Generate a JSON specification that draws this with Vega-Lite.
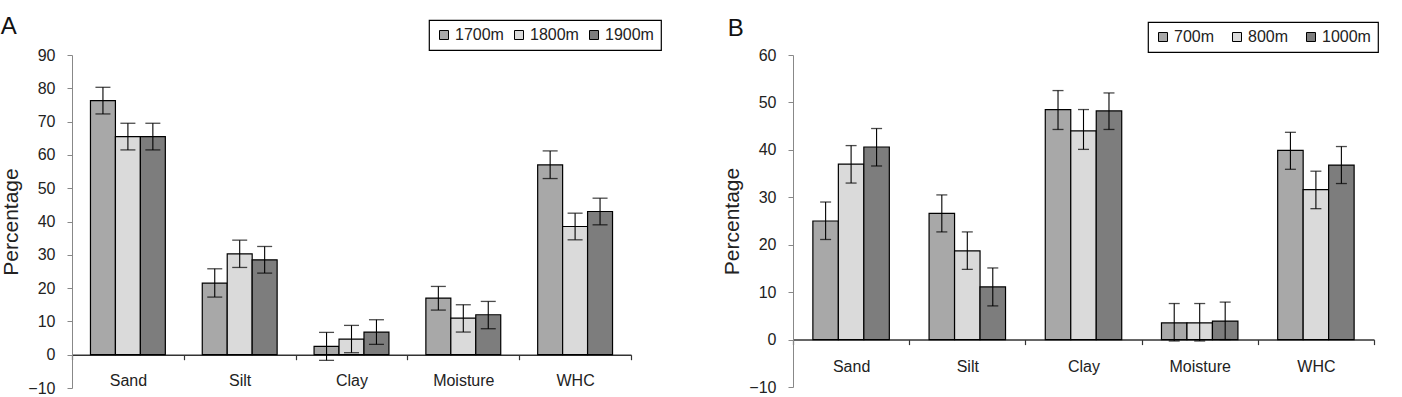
{
  "$schema": "https://vega.github.io/schema/vega-lite/v6.json",
  "background": "white",
  "padding": {"left": 0, "top": 15, "right": 0, "bottom": 0},
  "bounds": "flush",
  "spacing": 162,
  "config": {
    "font": "Liberation Sans",
    "view": {"stroke": null},
    "axis": {
      "labelFont": "Liberation Sans",
      "titleFont": "Liberation Sans",
      "labelColor": "#222",
      "titleColor": "#222",
      "titleFontWeight": "normal",
      "grid": false
    },
    "axisY": {
      "labelOverlap": false,
      "labelSeparation": 0,
      "domainColor": "#888",
      "tickColor": "#888",
      "tickSize": 5,
      "labelFontSize": 16,
      "labelPadding": 12,
      "titleFontSize": 21,
      "titlePadding": 6
    },
    "title": {
      "font": "Liberation Sans",
      "fontSize": 24,
      "fontWeight": "normal",
      "color": "#111",
      "anchor": "start",
      "frame": "bounds",
      "offset": -20
    },
    "legend": {
      "orient": "none",
      "direction": "horizontal",
      "title": null,
      "strokeColor": "#000",
      "strokeWidth": 1.2,
      "fillColor": "white",
      "padding": 7,
      "gridAlign": "all",
      "symbolType": "square",
      "symbolSize": 81,
      "symbolStrokeColor": "#000",
      "symbolStrokeWidth": 1,
      "labelFont": "Liberation Sans",
      "labelFontSize": 16,
      "labelColor": "#222",
      "labelOffset": 3
    }
  },
  "datasets": {
    "high": [
      {"property": "Sand", "elev": "1700m", "value": 76.3, "lo": 72.3, "hi": 80.3},
      {"property": "Sand", "elev": "1800m", "value": 65.5, "lo": 61.5, "hi": 69.5},
      {"property": "Sand", "elev": "1900m", "value": 65.5, "lo": 61.5, "hi": 69.5},
      {"property": "Silt", "elev": "1700m", "value": 21.5, "lo": 17.3, "hi": 25.8},
      {"property": "Silt", "elev": "1800m", "value": 30.3, "lo": 26.2, "hi": 34.4},
      {"property": "Silt", "elev": "1900m", "value": 28.5, "lo": 24.5, "hi": 32.5},
      {"property": "Clay", "elev": "1700m", "value": 2.5, "lo": -1.7, "hi": 6.7},
      {"property": "Clay", "elev": "1800m", "value": 4.7, "lo": 0.6, "hi": 8.8},
      {"property": "Clay", "elev": "1900m", "value": 6.8, "lo": 3.1, "hi": 10.5},
      {"property": "Moisture", "elev": "1700m", "value": 17.0, "lo": 13.4, "hi": 20.5},
      {"property": "Moisture", "elev": "1800m", "value": 11.0, "lo": 6.8, "hi": 15.0},
      {"property": "Moisture", "elev": "1900m", "value": 12.0, "lo": 7.8, "hi": 16.0},
      {"property": "WHC", "elev": "1700m", "value": 57.0, "lo": 52.9, "hi": 61.2},
      {"property": "WHC", "elev": "1800m", "value": 38.5, "lo": 34.5, "hi": 42.5},
      {"property": "WHC", "elev": "1900m", "value": 43.0, "lo": 39.0, "hi": 47.0}
    ],
    "low": [
      {"property": "Sand", "elev": "700m", "value": 25.0, "lo": 21.1, "hi": 29.0},
      {"property": "Sand", "elev": "800m", "value": 37.0, "lo": 33.0, "hi": 40.9},
      {"property": "Sand", "elev": "1000m", "value": 40.6, "lo": 36.6, "hi": 44.5},
      {"property": "Silt", "elev": "700m", "value": 26.6, "lo": 22.7, "hi": 30.5},
      {"property": "Silt", "elev": "800m", "value": 18.7, "lo": 14.8, "hi": 22.7},
      {"property": "Silt", "elev": "1000m", "value": 11.1, "lo": 7.1, "hi": 15.1},
      {"property": "Clay", "elev": "700m", "value": 48.5, "lo": 44.3, "hi": 52.5},
      {"property": "Clay", "elev": "800m", "value": 44.0, "lo": 40.1, "hi": 48.5},
      {"property": "Clay", "elev": "1000m", "value": 48.2, "lo": 44.3, "hi": 52.0},
      {"property": "Moisture", "elev": "700m", "value": 3.5, "lo": -0.3, "hi": 7.6},
      {"property": "Moisture", "elev": "800m", "value": 3.5, "lo": -0.3, "hi": 7.6},
      {"property": "Moisture", "elev": "1000m", "value": 3.9, "lo": 0.0, "hi": 7.9},
      {"property": "WHC", "elev": "700m", "value": 39.9, "lo": 35.9, "hi": 43.7},
      {"property": "WHC", "elev": "800m", "value": 31.6, "lo": 27.6, "hi": 35.5},
      {"property": "WHC", "elev": "1000m", "value": 36.8, "lo": 32.9, "hi": 40.7}
    ]
  },
  "resolve": {
    "scale": {"x": "independent", "y": "independent", "xOffset": "independent", "fill": "independent"},
    "legend": {"fill": "independent"}
  },
  "hconcat": [
    {
      "title": {"text": "A"},
      "width": 559,
      "height": 333,
      "data": {"name": "high"},
      "encoding": {
        "x": {
          "field": "property", "type": "nominal", "sort": null,
          "scale": {"paddingInner": 0, "paddingOuter": 0},
          "axis": {
            "title": null, "offset": -33.3, "labelAngle": 0,
            "domainColor": "#333", "domainWidth": 1.5,
            "tickColor": "#333", "tickWidth": 1.2, "tickSize": 5, "tickBand": "extent",
            "labelFontSize": 16, "labelPadding": 13
          }
        },
        "xOffset": {
          "field": "elev", "type": "nominal", "sort": null,
          "scale": {"domain": ["1700m", "1800m", "1900m"], "paddingInner": 0, "paddingOuter": 0.74}
        },
        "y": {
          "field": "value", "type": "quantitative", "title": "Percentage",
          "scale": {"domain": [-10, 90], "nice": false, "zero": false},
          "axis": {"values": [-10, 0, 10, 20, 30, 40, 50, 60, 70, 80, 90], "labelOverlap": false}
        }
      },
      "layer": [
        {
          "mark": {"type": "bar", "stroke": "#000", "strokeWidth": 1.2},
          "encoding": {
            "y2": {"datum": 0},
            "fill": {
              "field": "elev", "type": "nominal", "sort": null,
              "scale": {"domain": ["1700m", "1800m", "1900m"], "range": ["#a8a8a8", "#dadada", "#7d7d7d"]},
              "legend": {"legendX": 357, "legendY": -35, "columnPadding": 7}
            }
          }
        },
        {
          "mark": {"type": "rule", "color": "#000", "strokeWidth": 1.1},
          "encoding": {
            "y": {"field": "lo", "type": "quantitative", "title": "Percentage"},
            "y2": {"field": "hi"}
          }
        },
        {
          "mark": {"type": "tick", "color": "#000", "size": 15, "thickness": 1.3},
          "encoding": {
            "y": {"field": "lo", "type": "quantitative", "title": "Percentage"}
          }
        },
        {
          "mark": {"type": "tick", "color": "#000", "size": 15, "thickness": 1.3},
          "encoding": {
            "y": {"field": "hi", "type": "quantitative", "title": "Percentage"}
          }
        }
      ]
    },
    {
      "title": {"text": "B", "dx": 6},
      "width": 581,
      "height": 332,
      "data": {"name": "low"},
      "encoding": {
        "x": {
          "field": "property", "type": "nominal", "sort": null,
          "scale": {"paddingInner": 0, "paddingOuter": 0},
          "axis": {
            "title": null, "offset": -47.4, "labelAngle": 0,
            "domainColor": "#333", "domainWidth": 1.5,
            "tickColor": "#333", "tickWidth": 1.2, "tickSize": 5, "tickBand": "extent",
            "labelFontSize": 16, "labelPadding": 14
          }
        },
        "xOffset": {
          "field": "elev", "type": "nominal", "sort": null,
          "scale": {"domain": ["700m", "800m", "1000m"], "paddingInner": 0, "paddingOuter": 0.78}
        },
        "y": {
          "field": "value", "type": "quantitative", "title": "Percentage",
          "scale": {"domain": [-10, 60], "nice": false, "zero": false},
          "axis": {"values": [-10, 0, 10, 20, 30, 40, 50, 60], "labelOverlap": false}
        }
      },
      "layer": [
        {
          "mark": {"type": "bar", "stroke": "#000", "strokeWidth": 1.2},
          "encoding": {
            "y2": {"datum": 0},
            "fill": {
              "field": "elev", "type": "nominal", "sort": null,
              "scale": {"domain": ["700m", "800m", "1000m"], "range": ["#a8a8a8", "#dadada", "#7d7d7d"]},
              "legend": {"legendX": 355, "legendY": -33, "columnPadding": 6}
            }
          }
        },
        {
          "mark": {"type": "rule", "color": "#000", "strokeWidth": 1.1},
          "encoding": {
            "y": {"field": "lo", "type": "quantitative", "title": "Percentage"},
            "y2": {"field": "hi"}
          }
        },
        {
          "mark": {"type": "tick", "color": "#000", "size": 11, "thickness": 1.3},
          "encoding": {
            "y": {"field": "lo", "type": "quantitative", "title": "Percentage"}
          }
        },
        {
          "mark": {"type": "tick", "color": "#000", "size": 11, "thickness": 1.3},
          "encoding": {
            "y": {"field": "hi", "type": "quantitative", "title": "Percentage"}
          }
        }
      ]
    }
  ]
}
